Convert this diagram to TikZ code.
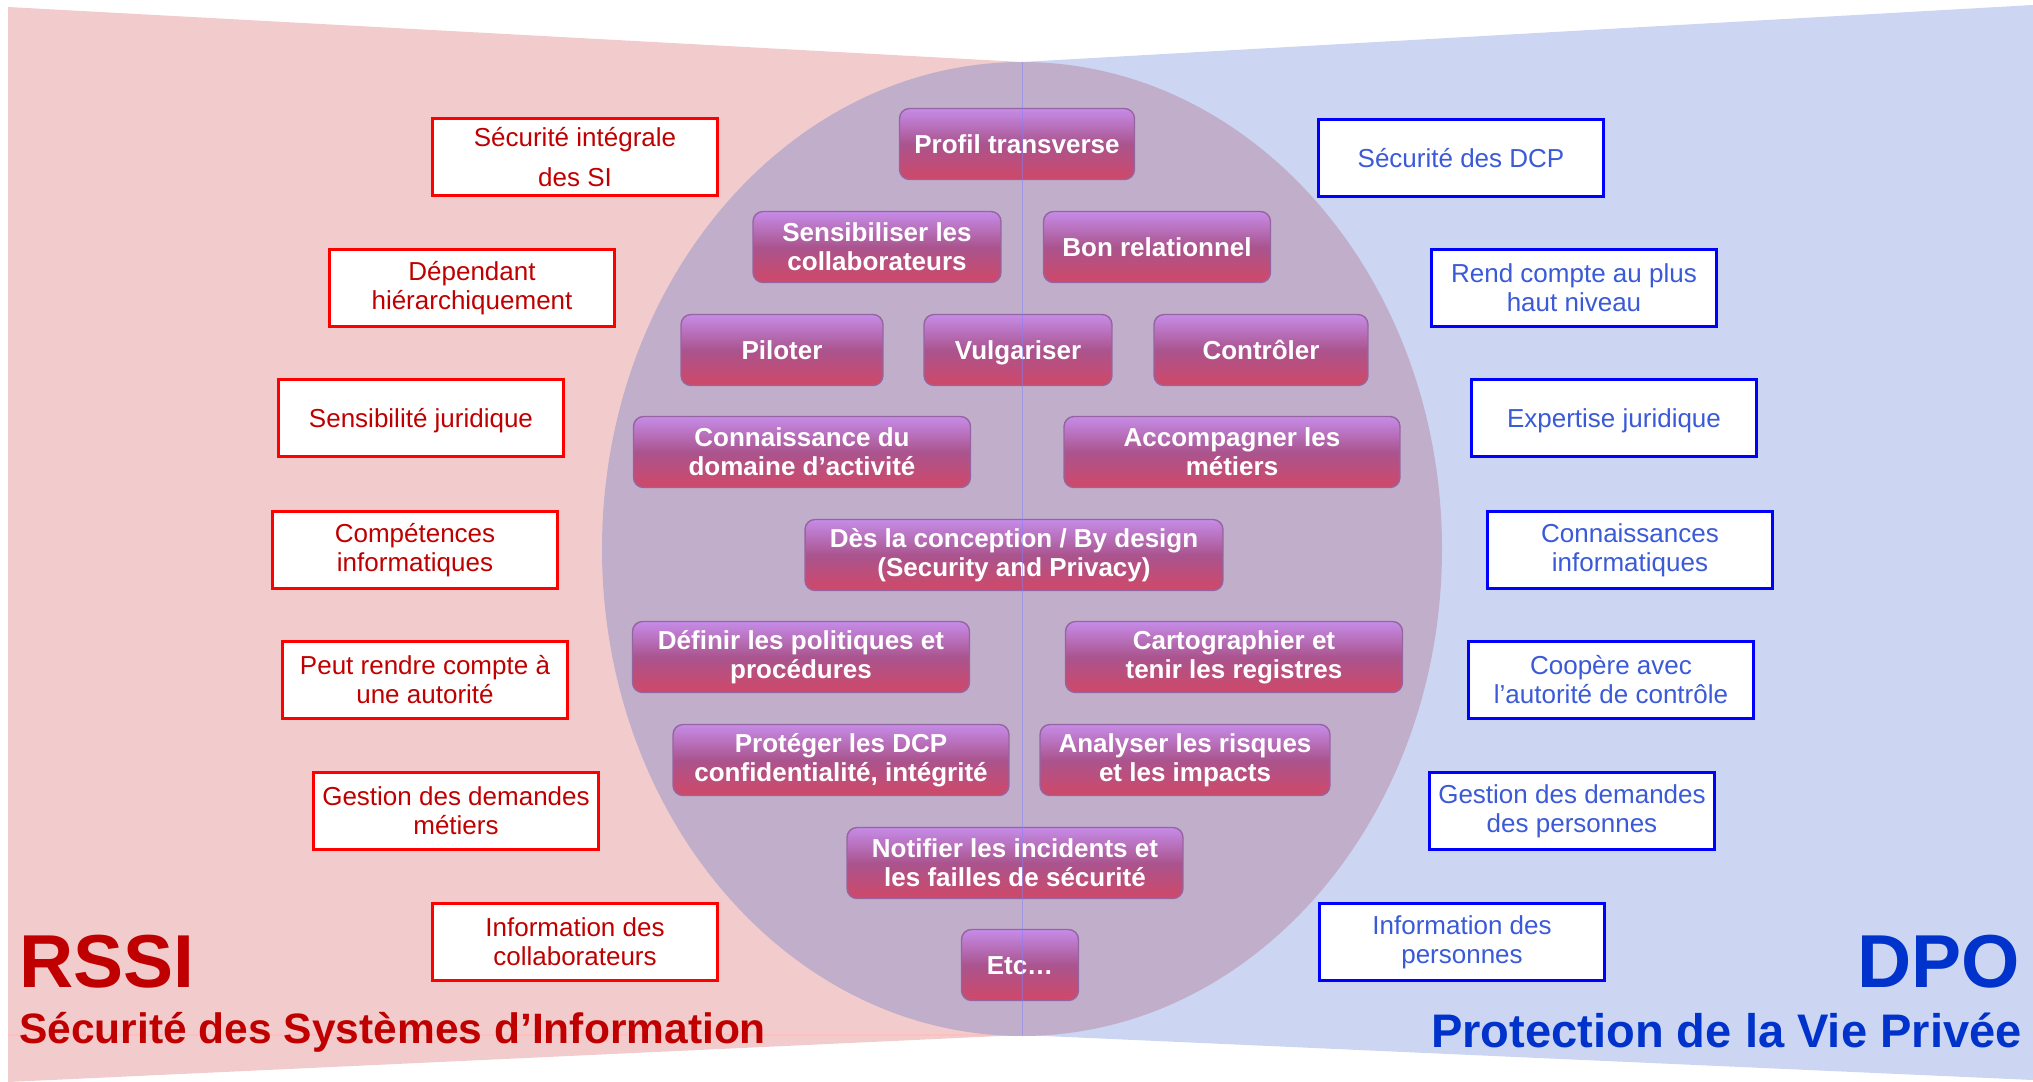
\documentclass[tikz,border=0pt]{standalone}
\usepackage{fontspec}
\setmainfont{Liberation Sans}
\definecolor{rssired}{RGB}{192,0,0}
\definecolor{boxred}{RGB}{255,0,0}
\definecolor{dpoblue}{RGB}{0,51,204}
\definecolor{boxblue}{RGB}{0,0,255}
\definecolor{textblue}{RGB}{58,90,216}
\definecolor{pinkbg}{RGB}{242,204,205}
\definecolor{bluebg}{RGB}{204,214,242}
\definecolor{mauve}{RGB}{193,174,203}
\definecolor{btntop}{RGB}{198,140,232}
\definecolor{btnmid}{RGB}{170,84,142}
\definecolor{btnbot}{RGB}{208,72,104}
\definecolor{btnedge}{RGB}{150,100,160}
\usetikzlibrary{positioning}

\begin{document}
\begin{tikzpicture}[x=0.02cm, y=-0.02cm,
    redbox/.style={draw=boxred, line width=1.7pt, fill=white, text=rssired,
        minimum width=5.7cm, minimum height=1.54cm, inner sep=0pt, align=center,
        font=\fontsize{14.8}{16.5}\selectfont},
    bluebox/.style={redbox, draw=boxblue, text=textblue},
    btn/.style={rounded corners=0.2cm, top color=btntop, bottom color=btnbot,
        middle color=btnmid, draw=btnedge, line width=0.8pt, text=white,
        font=\bfseries\fontsize{14.8}{16.5}\selectfont, align=center,
        minimum height=1.42cm, inner sep=0pt},
    oneline/.style={text height=10.6pt, text depth=0pt}]
    \useasboundingbox (0,0) rectangle (2033,1082);

    % Background
    \fill[pinkbg] (8,7) -- (1022,62) -- (1022,1035) -- (8,1082) -- cycle;
    \fill[bluebg] (1022,62) -- (2033,5) -- (2033,1080) -- (1022,1035) -- cycle;
    \draw[boxred!25, line width=0.6pt] (8,1035) -- (1022,1035);
    \fill[mauve] (1022,549) ellipse [x radius=420, y radius=487];

    % RSSI side
    \node[redbox] (secsi) at (575,157) {Sécurité intégrale\\[6pt]des SI};
    \node[redbox] (dependant) at (472,288) {Dépendant\\hiérarchiquement};
    \node[redbox, oneline] (sensjur) at (421,418) {Sensibilité juridique};
    \node[redbox] (compinfo) at (415,550) {Compétences\\informatiques};
    \node[redbox] (rendaut) at (425,680) {Peut rendre compte à\\une autorité};
    \node[redbox] (gestmet) at (456,811) {Gestion des demandes\\métiers};
    \node[redbox] (infocollab) at (575,942) {Information des\\collaborateurs};

    % DPO side
    \node[bluebox, oneline] (secdcp) at (1461,158) {Sécurité des DCP};
    \node[bluebox] (renddir) at (1574,288) {Rend compte au plus\\haut niveau};
    \node[bluebox, oneline] (expjur) at (1614,418) {Expertise juridique};
    \node[bluebox] (conninfo) at (1630,550) {Connaissances\\informatiques};
    \node[bluebox] (cooper) at (1611,680) {Coopère avec\\l’autorité de contrôle};
    \node[bluebox] (gestpers) at (1572,811) {Gestion des demandes\\des personnes};
    \node[bluebox] (infopers) at (1462,942) {Information des\\personnes};

    % Common skills
    \node[btn, oneline, minimum width=4.7cm] (profil) at (1017,144) {Profil transverse};
    \node[btn, minimum width=4.96cm] (sensib) at (877,247) {Sensibiliser les\\collaborateurs};
    \node[btn, oneline, minimum width=4.54cm] (relation) at (1157,247) {Bon relationnel};
    \node[btn, oneline, minimum width=4.04cm] (piloter) at (782,350) {Piloter};
    \node[btn, oneline, minimum width=3.76cm] (vulgar) at (1018,350) {Vulgariser};
    \node[btn, oneline, minimum width=4.28cm] (controler) at (1261,350) {Contrôler};
    \node[btn, minimum width=6.74cm] (domaine) at (802,452) {Connaissance du\\domaine d’activité};
    \node[btn, minimum width=6.72cm] (accomp) at (1232,452) {Accompagner les\\métiers};
    \node[btn, minimum width=8.36cm] (design) at (1014,555) {Dès la conception / By design\\(Security and Privacy)};
    \node[btn, minimum width=6.74cm] (politiques) at (801,657) {Définir les politiques et\\procédures};
    \node[btn, minimum width=6.74cm] (registres) at (1234,657) {Cartographier et\\tenir les registres};
    \node[btn, minimum width=6.72cm] (proteger) at (841,760) {Protéger les DCP\\confidentialité, intégrité};
    \node[btn, minimum width=5.8cm] (risques) at (1185,760) {Analyser les risques\\et les impacts};
    \node[btn, minimum width=6.72cm] (notifier) at (1015,863) {Notifier les incidents et\\les failles de sécurité};
    \node[btn, oneline, minimum width=2.34cm] (etc) at (1020,965) {Etc…};

    % Middle line
    \draw[boxblue!50, line width=0.5pt, opacity=0.5] (1022,62) -- (1022,1035);

    % Titles
    \node[anchor=base west, inner sep=0pt, text=rssired,
        font=\bfseries\fontsize{42.7}{44}\selectfont] (rssi) at (19,987) {RSSI};
    \node[anchor=base west, inner sep=0pt, text=rssired,
        font=\bfseries\fontsize{24.2}{26}\selectfont] (rssisub) at (19,1043) {Sécurité des Systèmes d’Information};
    \node[anchor=base east, inner sep=0pt, text=dpoblue,
        font=\bfseries\fontsize{42.7}{44}\selectfont] (dpo) at (2020,987) {DPO};
    \node[anchor=base east, inner sep=0pt, text=dpoblue,
        font=\bfseries\fontsize{26.8}{28}\selectfont] (dposub) at (2022,1047) {Protection de la Vie Privée};
\end{tikzpicture}
\end{document}
